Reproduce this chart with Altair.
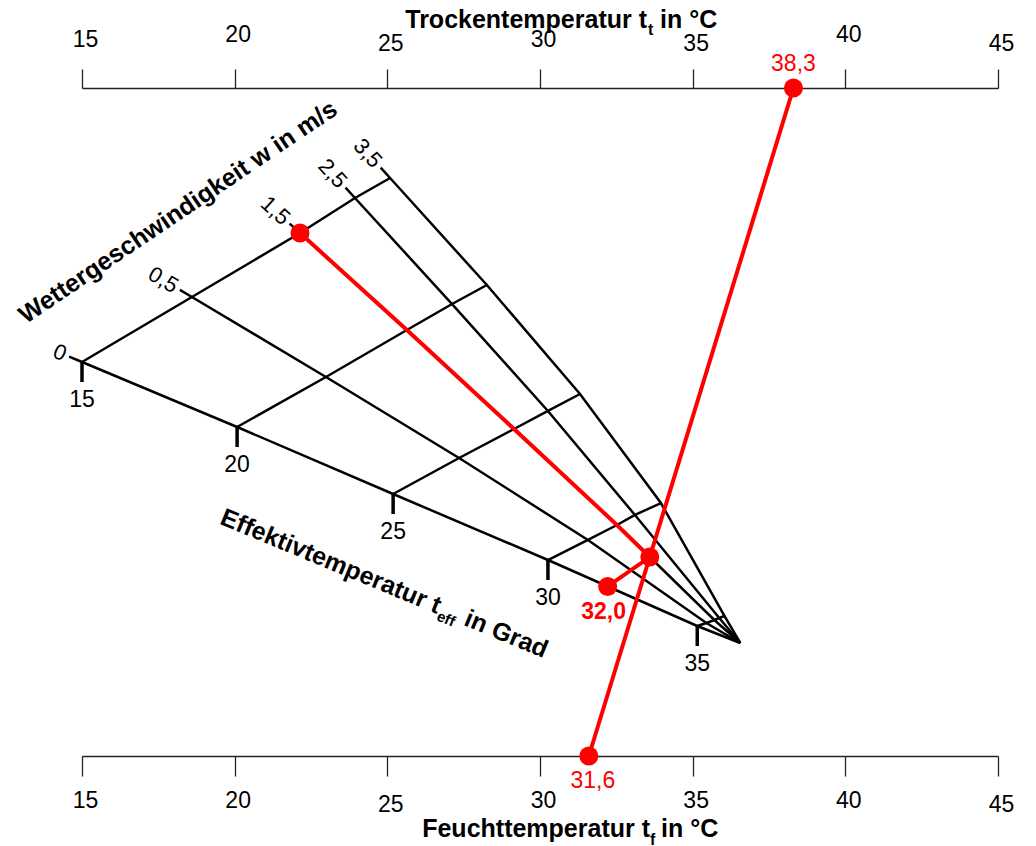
import math
import altair as alt
import pandas as pd

# ---------------- data ----------------
axis_ticks = [15, 20, 25, 30, 35, 40, 45]
teff_values = [15, 20, 25, 30, 35]
w_values = [0, 0.5, 1.5, 2.5, 3.5]
w_labels = ["0", "0,5", "1,5", "2,5", "3,5"]
# grid node positions: x in °C of the temperature scale, y in chart-height units (0 = lower axis, 100 = upper axis)
node_x = [
    [15.00, 18.60, 22.14, 23.94, 25.09],
    [20.08, 22.99, 25.64, 27.12, 28.26],
    [25.19, 27.35, 29.15, 30.26, 31.31],
    [30.26, 31.57, 32.52, 33.11, 33.96],
    [35.15, 35.45, 35.71, 35.87, 36.04],
]
node_y = [
    [58.98, 68.71, 78.29, 83.53, 86.53],
    [49.25, 56.74, 63.77, 67.66, 70.51],
    [39.22, 44.61, 48.95, 51.65, 54.19],
    [29.34, 32.34, 34.58, 36.08, 37.87],
    [19.46, 19.91, 20.36, 20.66, 20.96],
]
apex = (36.56, 16.92)
dry_temp = 38.3
wet_temp = 31.6
velocity = 1.5
result_teff = 32.0

# ---------------- layout ----------------
W, H = 916, 668
sx = W / 30.0
sy = H / 100.0
FONT = "Liberation Sans"
RED = "#ff0000"
EXT_PX = 14
TICK_PX = 20

xs = alt.Scale(domain=[15, 45], nice=False, zero=False)
ys = alt.Scale(domain=[0, 100], nice=False, zero=False)


def fmt(v):
    return f"{v:.1f}".replace(".", ",")


# grid lines
rows = []
wlab = []
for j, w in enumerate(w_values):
    x15, y15 = node_x[0][j], node_y[0][j]
    x20, y20 = node_x[1][j], node_y[1][j]
    dxp, dyp = (x20 - x15) * sx, -(y20 - y15) * sy
    L = math.hypot(dxp, dyp)
    ux, uy = dxp / L, dyp / L
    ex, ey = x15 - ux * EXT_PX / sx, y15 + uy * EXT_PX / sy
    pts = [(ex, ey)] + [(node_x[i][j], node_y[i][j]) for i in range(len(teff_values))] + [apex]
    for k, (px, py) in enumerate(pts):
        rows.append({"line": f"w{j}", "ord": k, "x": px, "y": py})
    wlab.append({"x": ex, "y": ey, "label": w_labels[j], "ang": math.degrees(math.atan2(dyp, dxp))})
for i, t in enumerate(teff_values):
    for j in range(len(w_values)):
        rows.append({"line": f"t{i}", "ord": j, "x": node_x[i][j], "y": node_y[i][j]})
grid_df = pd.DataFrame(rows)
wlab_df = pd.DataFrame(wlab)

teff_df = pd.DataFrame({
    "x": [node_x[i][0] for i in range(len(teff_values))],
    "y": [node_y[i][0] for i in range(len(teff_values))],
    "label": [str(t) for t in teff_values],
})
teff_df["y2"] = teff_df["y"] - TICK_PX / sy


def intersect(p1, p2, p3, p4):
    d = (p2[0] - p1[0]) * (p4[1] - p3[1]) - (p2[1] - p1[1]) * (p4[0] - p3[0])
    if d == 0:
        return None
    t = ((p3[0] - p1[0]) * (p4[1] - p3[1]) - (p3[1] - p1[1]) * (p4[0] - p3[0])) / d
    u = ((p3[0] - p1[0]) * (p2[1] - p1[1]) - (p3[1] - p1[1]) * (p2[0] - p1[0])) / d
    if 0 <= t <= 1 and 0 <= u <= 1:
        return (p1[0] + t * (p2[0] - p1[0]), p1[1] + t * (p2[1] - p1[1]))
    return None


top_pt = (dry_temp, 100.0)
bot_pt = (wet_temp, 0.0)
jv = w_values.index(velocity)
wline = [(node_x[i][jv], node_y[i][jv]) for i in range(len(teff_values))] + [apex]
path = [wline[0]]
cross = None
for k in range(len(wline) - 1):
    c = intersect(wline[k], wline[k + 1], bot_pt, top_pt)
    if c is not None:
        cross = c
        break
    path.append(wline[k + 1])
path.append(cross)
# result point on w = 0 line
for i in range(len(teff_values) - 1):
    if teff_values[i] <= result_teff <= teff_values[i + 1]:
        f = (result_teff - teff_values[i]) / (teff_values[i + 1] - teff_values[i])
        res_pt = (node_x[i][0] + f * (node_x[i + 1][0] - node_x[i][0]),
                  node_y[i][0] + f * (node_y[i + 1][0] - node_y[i][0]))
        break
path.append(res_pt)

red_rows = [{"line": "a", "ord": k, "x": p[0], "y": p[1]} for k, p in enumerate(path)]
red_rows += [{"line": "b", "ord": 0, "x": top_pt[0], "y": top_pt[1]},
             {"line": "b", "ord": 1, "x": bot_pt[0], "y": bot_pt[1]}]
red_df = pd.DataFrame(red_rows)
dots_df = pd.DataFrame({"x": [top_pt[0], path[0][0], cross[0], res_pt[0], bot_pt[0]],
                        "y": [top_pt[1], path[0][1], cross[1], res_pt[1], bot_pt[1]]})

# ---------------- axes ----------------
top_axis = alt.Axis(
    orient="top", values=axis_ticks, title=None, grid=False, tickSize=19,
    labelFont=FONT, labelFontSize=23, labelColor="black", labelOffset=3,
    labelPadding={"condition": [
        {"test": "datum.value == 20 || datum.value == 40", "value": 22.8},
        {"test": "datum.value == 25 || datum.value == 35 || datum.value == 45", "value": 13.5}],
        "value": 17.8},
    domainColor="#222222", tickColor="#222222", domainWidth=1.3, tickWidth=1.3,
    labelFlush=False, labelOverlap=False,
)
bottom_axis = alt.Axis(
    orient="bottom", values=axis_ticks, title=None, grid=False, tickSize=20,
    labelFont=FONT, labelFontSize=23, labelColor="black", labelOffset=3,
    labelPadding={"condition": {"test": "datum.value == 25 || datum.value == 45", "value": 17}, "value": 13},
    domainColor="#222222", tickColor="#222222", domainWidth=1.3, tickWidth=1.3,
    labelFlush=False, labelOverlap=False,
)

X = lambda ax=None: alt.X("x:Q", scale=xs, axis=ax)
Y = alt.Y("y:Q", scale=ys, axis=None)

grid = alt.Chart(grid_df).mark_line(color="black", strokeWidth=2.5).encode(
    x=X(top_axis), y=Y, detail="line:N", order="ord:Q")
ticks = alt.Chart(teff_df).mark_rule(color="black", strokeWidth=3.5).encode(
    x=X(), y=Y, y2="y2:Q")
teff_text = alt.Chart(teff_df).mark_text(font=FONT, fontSize=23, baseline="middle", dy=38, color="black").encode(
    x=X(), y=Y, text="label:N")
w_text = alt.Chart(wlab_df).mark_text(font=FONT, fontSize=22, align="right", baseline="middle", dx=-4, color="black").encode(
    x=X(), y=Y, text="label:N", angle=alt.Angle("ang:Q", scale=None))
red_lines = alt.Chart(red_df).mark_line(color=RED, strokeWidth=4).encode(
    x=X(bottom_axis), y=Y, detail="line:N", order="ord:Q")
dots = alt.Chart(dots_df).mark_circle(color=RED, size=361, opacity=1).encode(x=X(), y=Y)

lab_df = pd.DataFrame({"x": [top_pt[0], bot_pt[0]], "y": [top_pt[1], bot_pt[1]],
                       "label": [fmt(dry_temp), fmt(wet_temp)]})
red_top = alt.Chart(lab_df.iloc[[0]]).mark_text(font=FONT, fontSize=23, color=RED, baseline="middle", dy=-24).encode(
    x=X(), y=Y, text="label:N")
red_bot = alt.Chart(lab_df.iloc[[1]]).mark_text(font=FONT, fontSize=23, color=RED, baseline="middle", dy=25, dx=4).encode(
    x=X(), y=Y, text="label:N")
res_df = pd.DataFrame({"x": [res_pt[0]], "y": [res_pt[1]], "label": [fmt(result_teff)]})
red_res = alt.Chart(res_df).mark_text(font=FONT, fontSize=23, fontWeight="bold", color=RED, baseline="middle", dy=26, dx=-4).encode(
    x=X(), y=Y, text="label:N")


def txt(text, px, py, size, align="left", baseline="alphabetic", angle=0, dx=0, dy=0):
    return alt.Chart(pd.DataFrame({"t": [text]})).mark_text(
        font=FONT, fontSize=size, fontWeight="bold", align=align, baseline=baseline,
        angle=angle, dx=dx, dy=dy, color="black").encode(
        x=alt.value(px), y=alt.value(py), text="t:N")


titles = [
    txt("Trockentemperatur t", 565, -60, 25, align="right"),
    txt("t", 565, -60, 16, dx=1, dy=7),
    txt("in °C", 565, -60, 25, dx=13),
    txt("Feuchttemperatur t", 568, 749, 25, align="right"),
    txt("f", 568, 749, 16, dx=0, dy=8),
    txt("in °C", 568, 749, 25, dx=11),
    txt("Effektivtemperatur t", 355, 526, 25, align="right", angle=22.5),
    txt("eff", 355, 526, 15, angle=22.5, dx=1, dy=6),
    txt("in Grad", 355, 526, 25, angle=22.5, dx=28),
    txt("Wettergeschwindigkeit w in m/s", 96, 124, 25, align="center", baseline="middle", angle=326),
]

chart = alt.layer(grid, ticks, teff_text, w_text, red_lines, dots, red_top, red_bot, red_res, *titles).resolve_axis(
    x="independent"
).properties(
    width=W, height=H,
    padding={"left": 74, "top": 80, "right": 26, "bottom": 90},
    autosize=alt.AutoSizeParams(type="none"),
).configure_view(stroke=None)

chart.save("out.html", embed_options={"renderer": "svg", "actions": False})
